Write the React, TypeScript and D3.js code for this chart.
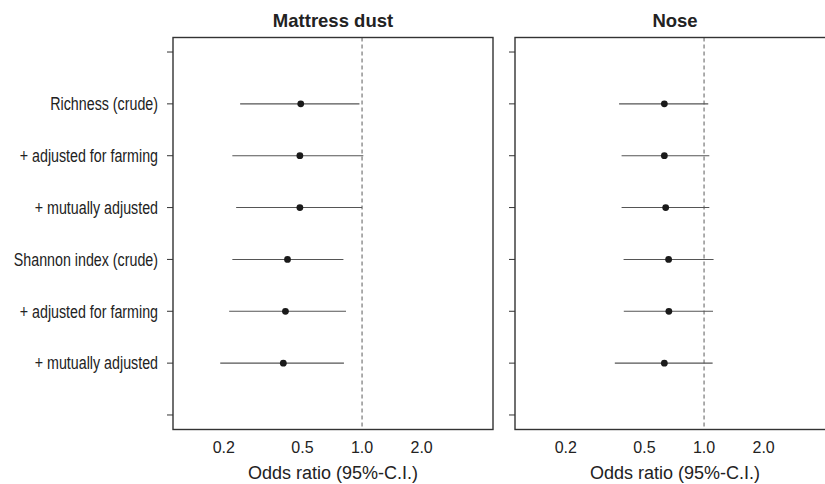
import * as d3 from 'd3';

const labels = [
  'Richness (crude)',
  '+ adjusted for farming',
  '+ mutually adjusted',
  'Shannon index (crude)',
  '+ adjusted for farming',
  '+ mutually adjusted',
];

const panelTitles = ['Mattress dust', 'Nose'];

const dustOR = [0.49, 0.485, 0.485, 0.42, 0.41, 0.4];
const dustLow = [0.242, 0.221, 0.231, 0.221, 0.213, 0.192];
const dustHigh = [0.97, 1.015, 1.0, 0.805, 0.83, 0.81];

const noseOR = [0.63, 0.63, 0.64, 0.662, 0.664, 0.63];
const noseLow = [0.372, 0.383, 0.383, 0.392, 0.393, 0.354];
const noseHigh = [1.05, 1.063, 1.063, 1.117, 1.11, 1.105];

const xTicks = [0.2, 0.5, 1.0, 2.0];
const xTitle = 'Odds ratio (95%-C.I.)';

const W = 825;
const H = 484;
const top = 37.5;
const bottom = 429.5;
const panelW = 320;
const panelX = [173, 515];
const font = 'Liberation Sans, Arial, sans-serif';

const y = d3.scaleLinear().domain([-0.28, 7.28]).range([bottom, top]);

const Panel = ({ x0, title, or, low, high, showLabels }) => {
  const x = d3.scaleLog().domain([0.1108, 4.59]).range([x0, x0 + panelW]);
  const rows = labels.map((l, i) => ({ l, pos: 6 - i, or: or[i], low: low[i], high: high[i] }));
  const yTicks = d3.range(0, 8);
  return (
    <g>
      <text x={x0 + panelW / 2} y={26.5} textAnchor="middle" fontFamily={font} fontWeight="bold" fontSize={18.5} fill="#222">
        {title}
      </text>
      <line x1={x(1)} x2={x(1)} y1={top} y2={bottom} stroke="#777" strokeDasharray="4,3" strokeWidth={1.2} />
      {rows.map((r, i) => (
        <g key={i}>
          <line x1={x(r.low)} x2={x(r.high)} y1={y(r.pos)} y2={y(r.pos)} stroke="#555" strokeWidth={1.1} />
          <circle cx={x(r.or)} cy={y(r.pos)} r={3.4} fill="#1a1a1a" />
        </g>
      ))}
      <rect x={x0} y={top} width={panelW} height={bottom - top} fill="none" stroke="#333" strokeWidth={1.4} />
      {yTicks.map((t) => (
        <line key={t} x1={x0 - 6} x2={x0} y1={y(t)} y2={y(t)} stroke="#333" strokeWidth={1} />
      ))}
      {/* labels are drawn condensed, like the narrow face of the original */}
      {showLabels &&
        rows.map((r, i) => (
          <text
            key={i}
            transform={`translate(158,${y(r.pos)}) scale(0.815,1)`}
            dy="0.36em"
            textAnchor="end"
            fontFamily={font}
            fontSize={17.5}
            fill="#222"
          >
            {r.l}
          </text>
        ))}
      {xTicks.map((t) => (
        <text key={t} x={x(t)} y={447.5} dy="0.36em" textAnchor="middle" fontFamily={font} fontSize={16} fill="#222">
          {d3.format('.1f')(t)}
        </text>
      ))}
      <text x={x0 + panelW / 2} y={473} dy="0.36em" textAnchor="middle" fontFamily={font} fontSize={18} fill="#222">
        {xTitle}
      </text>
    </g>
  );
};

export default function App() {
  return (
    <svg width={W} height={H} style={{ position: 'absolute', left: 0, top: 0, background: '#fff' }}>
      <Panel x0={panelX[0]} title={panelTitles[0]} or={dustOR} low={dustLow} high={dustHigh} showLabels />
      <Panel x0={panelX[1]} title={panelTitles[1]} or={noseOR} low={noseLow} high={noseHigh} showLabels={false} />
    </svg>
  );
}
